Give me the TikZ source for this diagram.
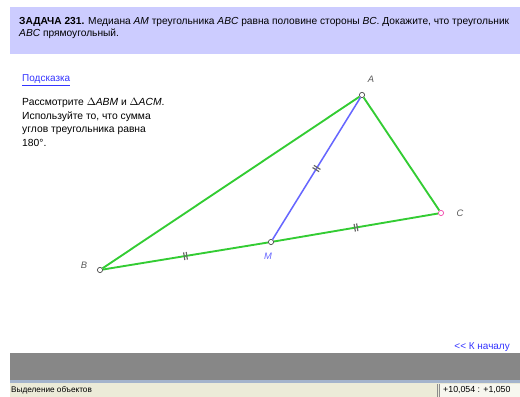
\documentclass[tikz,border=0pt]{standalone}
\usepackage{fontspec}
\setmainfont{Liberation Sans}
\usetikzlibrary{decorations.markings}
\definecolor{bandpurple}{HTML}{CCCCFF}
\definecolor{sidegreen}{HTML}{33CC33}
\definecolor{medblue}{HTML}{6666FF}
\definecolor{linkblue}{HTML}{3333FF}
\definecolor{barbg}{HTML}{878787}
\definecolor{statusbg}{HTML}{ECEBD8}
\definecolor{statusline}{HTML}{A4B4CC}
\tikzset{
  pt/.style={circle, draw=black!70, fill=white, inner sep=0pt, minimum size=4.5pt, line width=0.6pt},
  lbl/.style={text=black!65, font=\fontsize{8}{9}\selectfont\itshape},
  side/.style={sidegreen, line width=1.6pt},
  median/.style={medblue, line width=1.3pt},
  eqmark/.style={postaction={decorate}, decoration={markings,
    mark=at position 0.5 with {\draw[black!60, line width=1pt]
      (-1.1pt,-3.3pt) -- (-1.1pt,3.3pt) (1.1pt,-3.3pt) -- (1.1pt,3.3pt);}}}
}
\begin{document}
\begin{tikzpicture}[x=0.03cm, y=-0.03cm]
      \useasboundingbox (0,0) rectangle (520,397);
      % header
      \fill[bandpurple] (10,7) rectangle (520,54);
      \node[anchor=north west, align=left, inner sep=0pt, font=\fontsize{8.7}{10.5}\selectfont] (task) at (19,17)
        {\textbf{ЗАДАЧА 231.} Медиана \textit{AM} треугольника \textit{ABC} равна половине стороны \textit{BC}. Докажите, что треугольник\\
         \textit{ABC} прямоугольный.};
      % hint
      \node[anchor=west, inner sep=0pt, text=linkblue, font=\fontsize{8.5}{10}\selectfont] (hint) at (22,80) {\underline{Подсказка}};
      \node[anchor=north west, align=left, inner sep=0pt, font=\fontsize{8.8}{11.7}\selectfont] (hinttext) at (22,98)
        {Рассмотрите $\Delta$\textit{ABM} и $\Delta$\textit{ACM}.\\
         Используйте то, что сумма\\
         углов треугольника равна\\
         180°.};
      % points
      \draw
        (362,95) node[pt] (A){}
        (100,270) node[pt] (B){}
        (441,213) node[pt, draw=magenta!70] (C){}
        (271,242) node[pt] (M){};
      \node[lbl] (lA) at (371,79) {A};
      \node[lbl] (lB) at (84,265) {B};
      \node[lbl] (lC) at (460,213) {C};
      \node[lbl, text=medblue] (lM) at (268,256) {M};
      \begin{scope}[-]
        \draw[side] (A) to (B);
        \draw[side] (A) to (C);
        \draw[side, eqmark] (B) to (M);
        \draw[side, eqmark] (M) to (C);
        \draw[median, eqmark] (M) to (A);
      \end{scope}
      % bottom bars
      \node[anchor=east, inner sep=0pt, text=linkblue, font=\fontsize{8.5}{10}\selectfont] (back) at (510,348) {\underline{\textless{}\textless{} К началу}};
      \fill[barbg] (10,353) rectangle (520,380);
      \fill[statusline] (10,380) rectangle (520,383);
      \fill[statusbg] (10,383) rectangle (520,397);
      \draw[black!45, line width=0.5pt] (437,384) -- (437,397) (439,384) -- (439,397);
      \fill[statusbg!40] (440,384) rectangle (520,397);
      \node[anchor=west, inner sep=0pt, font=\fontsize{7}{8}\selectfont] (status) at (11,390) {Выделение объектов};
      \node[anchor=west, inner sep=0pt, font=\fontsize{7.5}{8}\selectfont] (coords) at (443,390) {+10,054 : +1,050};
\end{tikzpicture}
\end{document}
